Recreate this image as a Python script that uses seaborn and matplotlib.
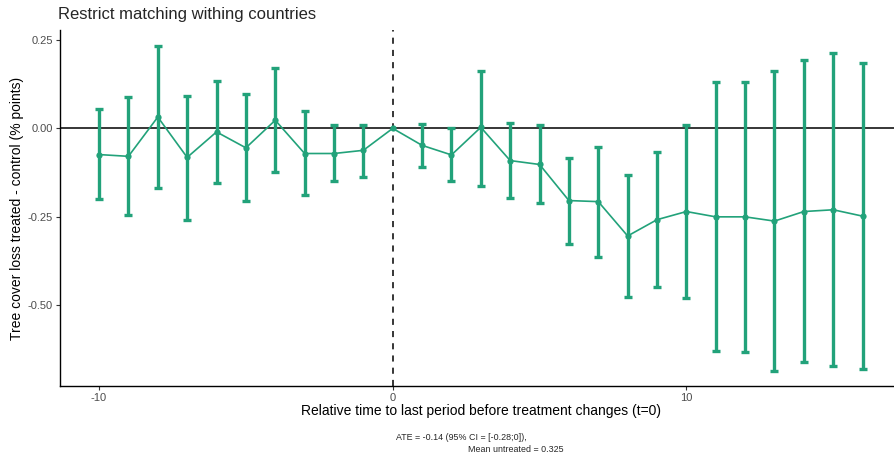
import matplotlib
matplotlib.use("Agg")
import matplotlib.pyplot as plt
import seaborn as sns
import numpy as np
import pandas as pd

# ---- data ----
rel_time = [-10, -9, -8, -7, -6, -5, -4, -3, -2, -1, 0, 1, 2, 3, 4, 5, 6, 7, 8,
            9, 10, 11, 12, 13, 14, 15, 16]
estimate = [-0.074, -0.079, 0.032, -0.082, -0.010, -0.055, 0.023, -0.071, -0.071,
            -0.062, 0.000, -0.048, -0.075, 0.003, -0.091, -0.102, -0.204, -0.207,
            -0.304, -0.258, -0.235, -0.250, -0.250, -0.262, -0.235, -0.230, -0.248]
ci_upper = [0.055, 0.088, 0.233, 0.092, 0.133, 0.096, 0.170, 0.048, 0.009,
            0.010, np.nan, 0.013, 0.000, 0.161, 0.014, 0.009, -0.083, -0.052,
            -0.132, -0.068, 0.010, 0.130, 0.132, 0.163, 0.192, 0.213, 0.184]
ci_lower = [-0.200, -0.245, -0.168, -0.259, -0.153, -0.204, -0.124, -0.188, -0.150,
            -0.136, np.nan, -0.108, -0.148, -0.162, -0.197, -0.212, -0.326, -0.363,
            -0.477, -0.448, -0.480, -0.630, -0.632, -0.685, -0.659, -0.672, -0.679]
y_ticks = [-0.50, -0.25, 0.00, 0.25]
y_tick_labels = ["-0.50", "-0.25", "0.00", "0.25"]
x_ticks = [-10, 0, 10]
x_tick_labels = ["-10", "0", "10"]

title = "Restrict matching withing countries"
x_title = "Relative time to last period before treatment changes (t=0)"
y_title = "Tree cover loss treated - control (% points)"
caption1 = "ATE = -0.14 (95% CI = [-0.28;0]),"
caption2 = "Mean untreated = 0.325"

df = pd.DataFrame({"t": rel_time, "est": estimate, "lo": ci_lower, "hi": ci_upper})

# ---- plot ----
sns.set_theme(style="white")
plt.rcParams["font.family"] = ["Liberation Sans", "DejaVu Sans"]

W, H = 894, 454
fig = plt.figure(figsize=(W / 100, H / 100), dpi=100)
ax = fig.add_axes([60 / W, 1 - 386 / H, (894 - 60) / W, (386 - 30) / H])

green = "#22a27a"

ax.axhline(0, color="black", lw=1.1, zorder=1)
ax.axvline(0, color="black", lw=1.1, ls=(0, (4, 4)), zorder=1)

m = df["lo"].notna()
ax.errorbar(df.loc[m, "t"], df.loc[m, "est"],
            yerr=[df.loc[m, "est"] - df.loc[m, "lo"], df.loc[m, "hi"] - df.loc[m, "est"]],
            fmt="none", ecolor=green, elinewidth=2.4, capsize=3, capthick=2.4, zorder=2)
sns.lineplot(data=df, x="t", y="est", ax=ax, color=green, lw=1.2,
             marker="o", markersize=4.5, markeredgewidth=0, zorder=3)

ax.set_xlim(-11.33, 17.07)
ax.set_ylim(-0.728, 0.278)
ax.set_xticks(x_ticks)
ax.set_xticklabels(x_tick_labels)
ax.set_yticks(y_ticks)
ax.set_yticklabels(y_tick_labels)
ax.tick_params(axis="both", which="both", length=3, width=0.8, color="#333333",
               labelsize=8, labelcolor="#4d4d4d", pad=2, direction="out",
               bottom=True, left=True)
for s in ["top", "right"]:
    ax.spines[s].set_visible(False)
for s in ["left", "bottom"]:
    ax.spines[s].set_color("black")
    ax.spines[s].set_linewidth(1.0)
ax.grid(False)

ax.set_xlabel(x_title, fontsize=10, color="black")
ax.set_ylabel(y_title, fontsize=10, color="black")
ax.xaxis.set_label_coords((481 - 60) / (894 - 60), -(411 - 386) / (386 - 30))
ax.yaxis.set_label_coords(-(60 - 17) / (894 - 60), (386 - 208) / (386 - 30))
ax.xaxis.label.set_va("center")
ax.yaxis.label.set_va("center")

fig.text(58 / W, 1 - 15 / H, title, fontsize=12, ha="left", va="center")
cap_font = dict(family=["DejaVu Sans"], stretch="condensed")
fig.text(461 / W, 1 - 438 / H, caption1, fontsize=6.4, ha="center", va="center",
         fontstretch="condensed")
fig.text(516 / W, 1 - 449 / H, caption2, fontsize=6.4, ha="center", va="center",
         fontstretch="condensed")

fig.savefig("out.png", dpi=100)
